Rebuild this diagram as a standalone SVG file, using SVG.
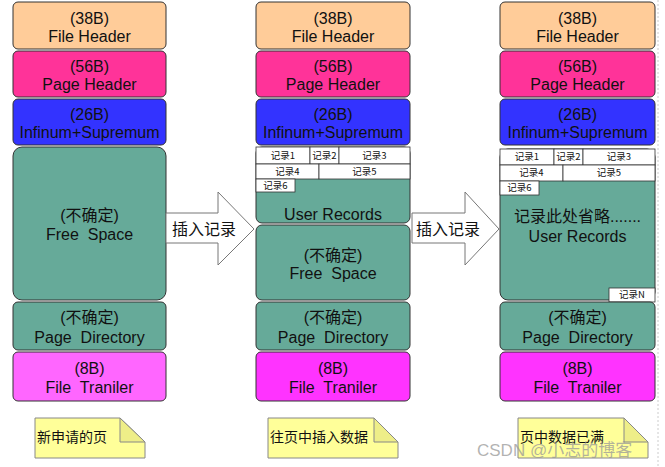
<svg xmlns="http://www.w3.org/2000/svg" width="665" height="467" viewBox="0 0 665 467">
<style>
.b{stroke:#333;stroke-width:1}
.t{font-family:"Liberation Sans","Noto Sans CJK SC",sans-serif;font-size:16px;fill:#111;text-anchor:middle;white-space:pre}
.c{fill:#fff;stroke:#333;stroke-width:0.8}
.ct{font-family:"Noto Sans CJK SC","Liberation Sans",sans-serif;font-size:9.5px;fill:#111;text-anchor:middle}
.fh{fill:#FFCC99}.ph{fill:#FF3399}.inf{fill:#3333FF}.tl{fill:#66AA99}.ft1{fill:#FF66FF}.ft2{fill:#FF33FF}
.note{fill:#FFFF99;stroke:#888;stroke-width:1}
.fold{fill:#EEEE88;stroke:#888;stroke-width:1}
.nt{font-family:"Noto Sans CJK SC",sans-serif;font-size:14px;fill:#111}
.ar{fill:#fff;stroke:#777;stroke-width:1}
.at{font-family:"Noto Sans CJK SC",sans-serif;font-size:16px;fill:#111}
</style>
<line x1="658" y1="0" x2="658" y2="467" stroke="#ccc" stroke-width="1" stroke-dasharray="2,2"/>
<g id="col1">
 <g id="c1-fh"><rect class="b fh" x="13" y="2" width="153" height="47" rx="5"/><text class="t" x="89.5" y="24">(38B)</text><text class="t" x="89.5" y="42">File Header</text></g>
 <g id="c1-ph"><rect class="b ph" x="13" y="51" width="153" height="46" rx="5"/><text class="t" x="89.5" y="72">(56B)</text><text class="t" x="89.5" y="90">Page Header</text></g>
 <g id="c1-inf"><rect class="b inf" x="13" y="99" width="153" height="46" rx="5"/><text class="t" x="89.5" y="120">(26B)</text><text class="t" x="89.5" y="138">Infinum+Supremum</text></g>
 <g id="c1-free"><rect class="b tl" x="13" y="147" width="153" height="153" rx="9"/><text class="t" x="89.5" y="221">(不确定)</text><text class="t" x="89.5" y="240">Free  Space</text></g>
 <g id="c1-pd"><rect class="b tl" x="13" y="302" width="153" height="48" rx="5"/><text class="t" x="89.5" y="323">(不确定)</text><text class="t" x="89.5" y="343">Page  Directory</text></g>
 <g id="c1-ft"><rect class="b ft1" x="13" y="352" width="153" height="49" rx="5"/><text class="t" x="89.5" y="374">(8B)</text><text class="t" x="89.5" y="393">File  Traniler</text></g>
</g>
<g id="col2">
 <g id="c2-fh"><rect class="b fh" x="256" y="2" width="154" height="47" rx="5"/><text class="t" x="333" y="24">(38B)</text><text class="t" x="333" y="42">File Header</text></g>
 <g id="c2-ph"><rect class="b ph" x="256" y="51" width="154" height="46" rx="5"/><text class="t" x="333" y="72">(56B)</text><text class="t" x="333" y="90">Page Header</text></g>
 <g id="c2-inf"><rect class="b inf" x="256" y="99" width="154" height="46" rx="5"/><text class="t" x="333" y="120">(26B)</text><text class="t" x="333" y="138">Infinum+Supremum</text></g>
 <g id="c2-ur"><rect class="b tl" x="256" y="147" width="154" height="76" rx="6"/>
  <rect class="c" x="256" y="147" width="54" height="17"/><text class="ct" x="283" y="159">记录1</text>
  <rect class="c" x="310" y="147" width="29" height="17"/><text class="ct" x="324.5" y="159">记录2</text>
  <rect class="c" x="339" y="147" width="71" height="17"/><text class="ct" x="374.5" y="159">记录3</text>
  <rect class="c" x="256" y="164" width="63" height="15"/><text class="ct" x="287.5" y="175">记录4</text>
  <rect class="c" x="319" y="164" width="91" height="15"/><text class="ct" x="364.5" y="175">记录5</text>
  <rect class="c" x="256" y="179" width="39" height="13"/><text class="ct" x="275.5" y="189">记录6</text>
  <text class="t" x="333" y="220">User Records</text></g>
 <g id="c2-free"><rect class="b tl" x="256" y="225" width="154" height="75" rx="6"/><text class="t" x="333" y="261">(不确定)</text><text class="t" x="333" y="279">Free  Space</text></g>
 <g id="c2-pd"><rect class="b tl" x="256" y="302" width="154" height="48" rx="5"/><text class="t" x="333" y="323">(不确定)</text><text class="t" x="333" y="343">Page  Directory</text></g>
 <g id="c2-ft"><rect class="b ft2" x="256" y="352" width="154" height="49" rx="5"/><text class="t" x="333" y="374">(8B)</text><text class="t" x="333" y="393">File  Traniler</text></g>
</g>
<g id="col3">
 <g id="c3-fh"><rect class="b fh" x="500" y="2" width="155" height="47" rx="5"/><text class="t" x="577.5" y="24">(38B)</text><text class="t" x="577.5" y="42">File Header</text></g>
 <g id="c3-ph"><rect class="b ph" x="500" y="51" width="155" height="46" rx="5"/><text class="t" x="577.5" y="72">(56B)</text><text class="t" x="577.5" y="90">Page Header</text></g>
 <g id="c3-inf"><rect class="b inf" x="500" y="99" width="155" height="46" rx="5"/><text class="t" x="577.5" y="120">(26B)</text><text class="t" x="577.5" y="138">Infinum+Supremum</text></g>
 <g id="c3-ur"><rect class="b tl" x="500" y="149" width="155" height="151" rx="8"/>
  <rect class="c" x="500" y="149" width="54" height="16"/><text class="ct" x="527" y="160">记录1</text>
  <rect class="c" x="554" y="149" width="29" height="16"/><text class="ct" x="568.5" y="160">记录2</text>
  <rect class="c" x="583" y="149" width="72" height="16"/><text class="ct" x="619" y="160">记录3</text>
  <rect class="c" x="500" y="165" width="63" height="16"/><text class="ct" x="531.5" y="176">记录4</text>
  <rect class="c" x="563" y="165" width="92" height="16"/><text class="ct" x="609" y="176">记录5</text>
  <rect class="c" x="500" y="181" width="39" height="14"/><text class="ct" x="519.5" y="191">记录6</text>
  <rect class="c" x="609" y="288" width="46" height="14"/><text class="ct" x="632" y="298">记录N</text>
  <text class="t" x="577.5" y="222">记录此处省略.......</text>
  <text class="t" x="577.5" y="242">User Records</text></g>
 <g id="c3-pd"><rect class="b tl" x="500" y="302" width="155" height="48" rx="5"/><text class="t" x="577.5" y="323">(不确定)</text><text class="t" x="577.5" y="343">Page  Directory</text></g>
 <g id="c3-ft"><rect class="b ft2" x="500" y="352" width="155" height="49" rx="5"/><text class="t" x="577.5" y="374">(8B)</text><text class="t" x="577.5" y="393">File  Traniler</text></g>
</g>
<g id="connectors">
 <g id="arrow1"><path class="ar" d="M166,213 H218 V192 L254,229 L218,265 V243 H166 Z"/><text class="at" x="172" y="235">插入记录</text></g>
 <g id="arrow2"><path class="ar" d="M412,213 H465 V192 L499,229 L465,265 V243 H412 Z"/><text class="at" x="416" y="235">插入记录</text></g>
</g>
<g id="note1"><path class="note" d="M35,418 H120 L145,442 V458 H35 Z"/><path class="fold" d="M120,418 V442 H145 Z"/><text class="nt" x="37" y="442">新申请的页</text></g>
<g id="note2"><path class="note" d="M268,418 H374 L398,442 V458 H268 Z"/><path class="fold" d="M374,418 V442 H398 Z"/><text class="nt" x="270" y="442">往页中插入数据</text></g>
<g id="note3"><path class="note" d="M518,418 H624 L648,442 V458 H518 Z"/><path class="fold" d="M624,418 V442 H648 Z"/><text class="nt" x="520" y="442">页中数据已满</text></g>
<text x="477" y="456" font-family="Liberation Sans,Noto Sans CJK SC,sans-serif" font-size="17" fill="#999" fill-opacity="0.75">CSDN @小志的博客</text>
</svg>
